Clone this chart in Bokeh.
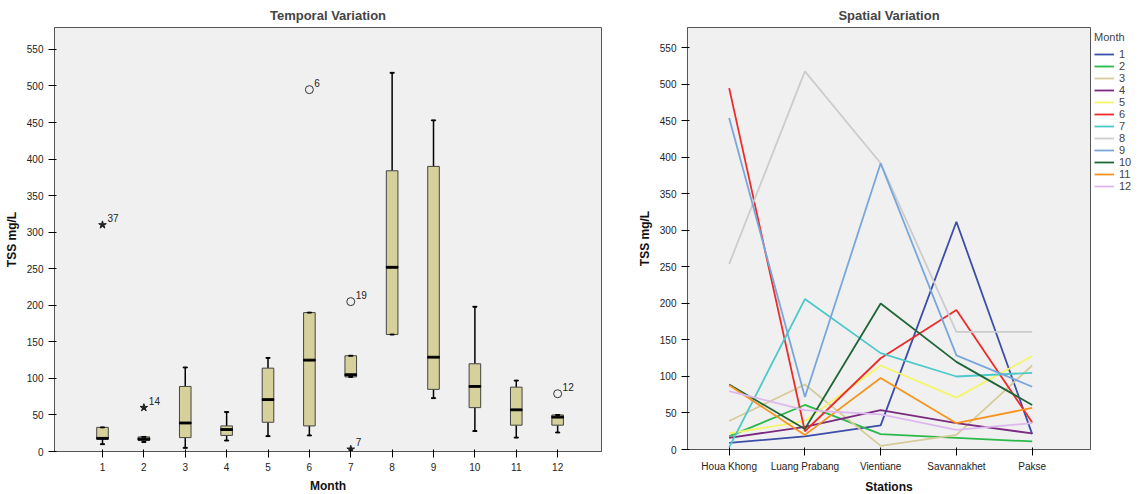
from bokeh.plotting import figure
from bokeh.layouts import row
from bokeh.models import Legend, LegendItem, FixedTicker, ColumnDataSource
from bokeh.embed import file_html
from bokeh.resources import INLINE

months = list(range(1, 13))
w_low = [10, 13, 5, 15, 21, 22, 102, 160, 73, 28, 19, 26]
q1 = [17, 15, 19, 22, 40, 35, 102, 160, 85, 60, 36, 36]
med = [18, 17, 39, 30, 71, 125, 105, 252, 129, 89, 57, 47]
q3 = [33, 20, 89, 35, 114, 190, 131, 384, 390, 120, 88, 50]
w_high = [33, 20, 115, 54, 128, 190, 131, 518, 453, 198, 97, 50]
circ_x = [6, 7, 12]; circ_y = [495, 205, 79]; circ_lab = ["6", "19", "12"]
star_x = [1, 2, 7]; star_y = [310, 60, 3]; star_lab = ["37", "14", "7"]

stations = ["Houa Khong", "Luang Prabang", "Vientiane", "Savannakhet", "Pakse"]
spatial = {
    1: [9, 18, 33, 312, 21],
    2: [18, 61, 21, 16, 11],
    3: [39, 89, 5, 20, 115],
    4: [16, 31, 54, 36, 22],
    5: [22, 39, 115, 71, 128],
    6: [495, 25, 125, 191, 37],
    7: [3, 206, 132, 100, 105],
    8: [254, 518, 392, 161, 161],
    9: [454, 72, 392, 129, 86],
    10: [89, 28, 200, 120, 61],
    11: [88, 20, 98, 36, 57],
    12: [80, 54, 48, 27, 36],
}
colors = ["#3b4ea8", "#2db84b", "#d6cc9a", "#7a2a7f", "#f5f56a", "#ee2b2b",
          "#4cc9c9", "#cccccc", "#7aa7db", "#1f6638", "#f7941d", "#ddb8ee"]

yt = list(range(0, 551, 50))

def style(p, xlab):
    p.background_fill_color = "#f0f0f0"
    p.border_fill_color = "white"
    p.outline_line_color = "#555555"
    p.grid.visible = False
    p.title.align = "center"
    p.title.text_font_size = "13px"
    p.title.text_font = "Liberation Sans"
    p.yaxis.ticker = FixedTicker(ticks=yt)
    p.yaxis.axis_label = "TSS mg/L"
    p.xaxis.axis_label = xlab
    for ax in (p.xaxis, p.yaxis):
        ax.axis_label_text_font = "Liberation Sans"
        ax.axis_label_text_font_style = "bold"
        ax.axis_label_text_font_size = "12px"
        ax.axis_label_text_color = "#111111"
        ax.major_label_text_font = "Liberation Sans"
        ax.major_label_text_font_size = "10px"
        ax.major_label_text_color = "#222222"
        ax.minor_tick_line_color = None
        ax.axis_line_color = "#555555"
    p.toolbar.logo = None

p1 = figure(title="Temporal Variation", frame_width=547, frame_height=424,
            min_border_left=54, min_border_right=24, min_border_top=20,
            x_range=(-0.16, 13.06), y_range=(0, 580),
            output_backend="svg", toolbar_location=None)
style(p1, "Month")
p1.xaxis.ticker = FixedTicker(ticks=months)
src = ColumnDataSource(dict(x=months, lo=w_low, q1=q1, med=med, q3=q3, hi=w_high))
p1.segment("x", "lo", "x", "q1", source=src, color="black", line_width=1.5)
p1.segment("x", "q3", "x", "hi", source=src, color="black", line_width=1.5)
p1.vbar(x="x", width=0.28, bottom="q1", top="q3", source=src,
        fill_color="#d6d09a", line_color="#444444")
p1.rect(x="x", y="med", width=0.28, height=2.5, source=src, color="black")
p1.rect(x="x", y="lo", width=0.1, height=1.2, source=src, color="black")
p1.rect(x="x", y="hi", width=0.1, height=1.2, source=src, color="black")
p1.scatter(circ_x, circ_y, marker="circle", size=8, fill_color=None, line_color="#333333")
p1.scatter(star_x, star_y, marker="star", size=8, color="#222222")
p1.text([x + 0.12 for x in circ_x], [y + 4 for y in circ_y], text=circ_lab,
        text_font_size="10px", text_color="#222222")
p1.text([x + 0.12 for x in star_x], [y + 4 for y in star_y], text=star_lab,
        text_font_size="10px", text_color="#222222")

p2 = figure(title="Spatial Variation", frame_width=403, frame_height=422,
            min_border_left=62, min_border_top=22, min_border_right=0,
            x_range=(-0.55, 4.77), y_range=(0, 578),
            output_backend="svg", toolbar_location=None)
style(p2, "Stations")
p2.xaxis.ticker = FixedTicker(ticks=[0, 1, 2, 3, 4])
p2.xaxis.major_label_overrides = {i: s for i, s in enumerate(stations)}
items = []
for m, c in zip(months, colors):
    r = p2.line(list(range(5)), spatial[m], color=c, line_width=1.8)
    items.append(LegendItem(label=str(m), renderers=[r]))
leg = Legend(items=items, title="Month", location="top_left",
             label_text_font_size="11px", title_text_font_size="11px",
             title_text_font_style="normal",
             glyph_width=20, glyph_height=12, label_height=12, spacing=0,
             padding=4, margin=4, border_line_color=None,
             label_text_font="Liberation Sans", title_text_font="Liberation Sans")
p2.add_layout(leg, "right")

layout = row(p1, p2)
open("out.html", "w").write(file_html(layout, INLINE))
